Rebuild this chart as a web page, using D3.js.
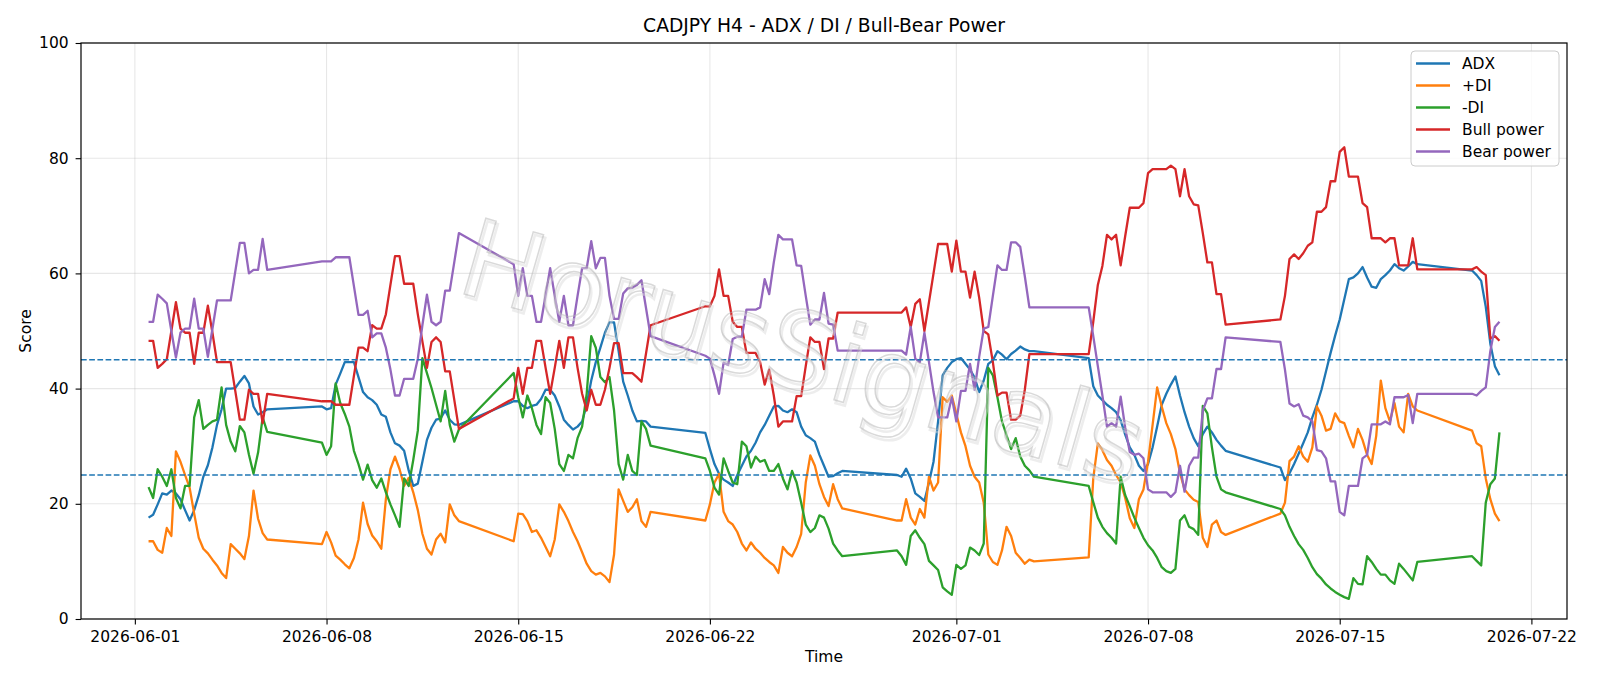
<!DOCTYPE html>
<html>
<head>
<meta charset="utf-8">
<script src="https://cdn.jsdelivr.net/npm/d3@7"></script>
<style>
  body { margin: 0; background: #fff; }
  text { font-family: "DejaVu Sans", sans-serif; fill: #000; }
</style>
</head>
<body>
<svg id="chart" width="1600" height="686"></svg>
<script>
// H4 bars, one block per trading week: [first bar (UTC), number of bars]
const sessions = [
  ["2026-06-01T12:00", 27],
  ["2026-06-07T20:00", 31],
  ["2026-06-14T20:00", 31],
  ["2026-06-21T20:00", 31],
  ["2026-06-28T20:00", 31],
  ["2026-07-05T20:00", 31],
  ["2026-07-12T20:00", 31],
  ["2026-07-19T20:00", 7]
];

const adx = [
  17.6, 18.1, 19.9, 21.8, 21.6, 22.3, 21.8, 20.8, 18.9, 17.1, 18.9, 21.5, 24.7, 26.7, 29.8, 33.7, 36.4, 40.0, 40.0, 40.1, 41.2, 42.2, 40.9, 36.9, 35.5, 35.9, 36.4,
  36.9, 36.4, 36.6, 40.7, 42.6, 44.6, 44.6, 44.6, 42.0, 39.4, 38.5, 38.0, 37.2, 35.5, 35.1, 32.4, 30.5, 30.1, 29.2, 25.8, 23.1, 23.5, 27.3, 31.1, 33.2, 34.6, 34.8, 36.2, 34.6, 33.8, 33.7,
  37.8, 37.8, 37.0, 36.6, 37.0, 37.2, 38.2, 39.8, 39.8, 38.8, 36.9, 34.6, 33.7, 32.9, 33.4, 34.3, 37.2, 41.4, 44.6, 47.1, 49.7, 51.5, 51.5, 46.5, 41.2, 38.8, 36.2, 34.3, 34.4, 34.3, 33.4,
  32.3, 29.5, 26.9, 25.2, 24.2, 23.7, 23.1, 25.0, 26.6, 28.2, 29.2, 30.6, 32.4, 33.7, 35.3, 36.9, 37.0, 36.2, 35.9, 36.4, 35.9, 33.4, 31.9, 31.4, 30.8, 28.5, 26.6, 24.7, 24.8, 25.3, 25.7,
  25.0, 24.7, 26.1, 24.4, 21.8, 21.2, 20.5, 23.7, 27.3, 34.3, 42.3, 43.6, 44.6, 45.1, 45.3, 44.3, 43.3, 41.9, 39.4, 41.4, 44.3, 44.9, 46.5, 45.9, 45.1, 46.0, 46.6, 47.3, 46.8, 46.5, 46.5,
  45.3, 40.4, 38.8, 38.0, 37.2, 36.6, 35.9, 34.5, 32.0, 29.8, 28.5, 26.6, 25.7, 26.9, 29.8, 33.4, 37.2, 39.1, 40.7, 42.1, 38.8, 35.9, 33.4, 31.4, 30.0, 32.1, 33.4, 32.4, 31.1, 30.1, 29.2,
  26.3, 24.1, 25.3, 26.9, 28.7, 30.5, 32.4, 35.0, 37.2, 39.8, 43.0, 46.2, 49.2, 52.0, 55.5, 59.0, 59.3, 60.0, 61.1, 59.3, 57.7, 57.5, 59.0, 59.7, 60.5, 61.6, 60.9, 60.5, 61.2, 62.0, 61.6,
  60.5, 59.7, 58.7, 54.2, 47.8, 43.9, 42.3
];

const plusDI = [
  13.5, 13.5, 12.0, 11.5, 15.8, 14.4, 29.1, 27.3, 25.0, 22.8, 18.3, 14.1, 12.2, 11.4, 10.3, 9.3, 8.0, 7.1, 13.0, 12.2, 11.4, 10.4, 14.4, 22.3, 17.4, 14.9, 13.8,
  13.0, 15.1, 13.3, 11.0, 10.3, 9.5, 8.8, 10.6, 13.8, 20.2, 16.5, 14.5, 13.5, 12.2, 20.8, 26.0, 28.2, 26.0, 23.1, 24.5, 22.0, 18.9, 14.8, 12.2, 11.2, 13.8, 14.8, 13.3, 19.9, 18.0, 17.0,
  13.5, 18.3, 18.2, 17.0, 15.1, 15.4, 14.1, 12.5, 10.9, 13.8, 19.9, 18.6, 17.0, 15.1, 13.5, 11.6, 9.6, 8.3, 7.7, 8.0, 7.4, 6.4, 11.2, 22.5, 20.5, 18.6, 19.4, 20.8, 17.0, 16.0, 18.6,
  17.1, 19.9, 23.7, 25.2, 18.6, 17.0, 16.4, 15.1, 13.1, 11.9, 13.3, 12.2, 11.5, 10.6, 9.9, 9.3, 8.0, 12.5, 11.5, 10.9, 12.5, 14.8, 23.7, 28.4, 26.6, 23.4, 21.2, 19.6, 23.4, 20.8, 19.2,
  17.1, 17.1, 20.8, 17.6, 16.4, 19.1, 17.6, 24.7, 22.3, 23.7, 38.5, 37.7, 38.8, 35.6, 32.4, 30.0, 26.6, 24.7, 23.7, 20.2, 11.2, 9.9, 9.4, 11.9, 16.0, 14.4, 11.5, 10.6, 9.6, 10.3, 10.0,
  10.7, 24.4, 30.5, 29.3, 27.6, 26.6, 25.0, 23.7, 21.0, 17.5, 15.8, 20.8, 22.5, 27.3, 33.7, 40.2, 36.9, 34.0, 32.1, 29.5, 25.3, 22.5, 21.5, 20.7, 20.3, 14.1, 12.5, 16.4, 17.1, 15.1, 14.6,
  18.3, 20.2, 27.4, 28.2, 30.0, 28.2, 27.3, 29.8, 36.9, 35.3, 32.7, 33.0, 35.7, 34.3, 34.0, 31.8, 29.8, 33.0, 31.1, 28.5, 26.9, 31.8, 41.4, 36.6, 34.3, 37.5, 33.4, 32.4, 39.1, 36.9, 36.2,
  32.7, 30.5, 30.0, 24.4, 20.8, 18.3, 17.0
];

const minusDI = [
  22.9, 21.0, 26.0, 24.7, 23.1, 26.0, 21.0, 19.2, 23.1, 23.1, 35.0, 38.0, 33.0, 33.7, 34.3, 34.6, 40.2, 33.7, 30.8, 29.1, 33.5, 32.4, 28.5, 25.2, 28.9, 35.0, 32.5,
  30.6, 28.5, 30.0, 40.9, 37.5, 35.6, 33.4, 29.2, 26.9, 24.2, 26.8, 24.1, 22.8, 24.4, 22.0, 19.9, 18.0, 16.0, 24.4, 23.1, 27.6, 32.7, 45.3, 42.7, 40.1, 37.2, 34.3, 39.6, 33.7, 30.8, 32.9,
  42.7, 38.5, 35.0, 38.8, 36.6, 33.7, 32.1, 38.5, 37.5, 33.0, 26.9, 25.7, 28.5, 27.9, 31.4, 33.4, 39.1, 49.1, 47.1, 42.0, 41.1, 42.0, 36.2, 26.9, 24.2, 28.5, 25.7, 25.0, 34.3, 33.0, 30.1,
  27.9, 25.7, 22.8, 21.6, 27.9, 25.7, 23.7, 23.4, 30.8, 30.0, 26.3, 28.2, 27.3, 27.6, 25.7, 25.7, 26.9, 24.4, 22.5, 25.7, 23.7, 20.2, 16.4, 15.1, 15.8, 18.0, 17.6, 15.7, 13.1, 11.9, 10.9,
  11.9, 10.9, 9.4, 14.4, 15.4, 14.1, 13.0, 10.1, 9.3, 8.5, 5.5, 4.8, 4.2, 9.4, 8.7, 9.3, 12.4, 11.9, 11.1, 13.1, 43.6, 42.3, 38.5, 34.3, 31.9, 29.5, 31.4, 28.2, 26.6, 25.8, 24.7,
  23.1, 20.3, 17.6, 16.0, 14.9, 14.1, 13.1, 24.7, 21.5, 19.6, 17.6, 15.8, 14.1, 12.8, 11.9, 10.6, 9.0, 8.3, 8.0, 8.7, 17.1, 18.0, 16.0, 15.6, 14.6, 37.0, 35.7, 29.8, 24.7, 22.5, 22.0,
  19.1, 18.0, 16.0, 14.4, 13.0, 12.0, 10.6, 9.0, 7.8, 7.0, 6.0, 5.3, 4.7, 4.2, 3.8, 3.5, 7.1, 6.1, 6.0, 10.9, 9.9, 8.7, 7.7, 7.7, 6.7, 6.1, 9.6, 8.7, 7.7, 6.7, 9.9,
  10.9, 10.1, 9.3, 20.2, 23.4, 24.4, 32.4
];

const bullPower = [
  48.3, 48.3, 43.6, 44.3, 45.1, 50.0, 55.0, 50.4, 49.7, 49.7, 44.3, 49.7, 49.7, 54.4, 49.7, 44.6, 44.6, 44.6, 44.6, 39.6, 34.6, 34.6, 39.8, 39.1, 39.1, 34.0, 39.1,
  37.8, 37.8, 37.8, 37.2, 37.2, 37.2, 37.2, 42.2, 47.1, 47.1, 46.5, 51.0, 50.4, 50.4, 52.9, 58.0, 63.0, 63.0, 58.2, 58.2, 58.2, 52.9, 48.2, 43.6, 48.1, 48.9, 48.1, 43.0, 43.0, 38.0, 33.0,
  38.3, 43.6, 39.1, 43.6, 43.6, 48.3, 48.3, 43.6, 39.1, 43.6, 48.3, 43.6, 48.9, 48.9, 43.6, 39.1, 36.2, 39.8, 37.2, 37.2, 39.8, 43.6, 47.9, 47.9, 42.7, 42.7, 42.7, 42.0, 41.2, 46.1, 51.0,
  54.3, 54.3, 56.1, 60.7, 56.1, 56.1, 51.6, 50.7, 50.7, 46.2, 46.2, 46.2, 44.6, 40.7, 43.3, 38.8, 33.4, 34.3, 34.3, 34.3, 38.7, 38.7, 43.9, 48.9, 48.1, 48.1, 43.4, 48.7, 48.7, 53.2, 53.2,
  53.2, 53.2, 54.1, 50.7, 54.7, 55.5, 50.0, 55.0, 60.0, 65.1, 65.1, 65.1, 60.3, 65.7, 60.3, 60.3, 55.8, 60.3, 55.8, 50.0, 49.4, 44.6, 38.8, 39.3, 39.3, 34.6, 34.6, 35.3, 39.8, 46.0, 46.0,
  46.0, 51.6, 58.0, 61.3, 66.7, 65.9, 66.7, 61.4, 66.5, 71.4, 71.4, 71.4, 72.2, 77.4, 78.1, 78.1, 78.1, 78.1, 78.7, 78.1, 73.4, 78.1, 73.4, 72.0, 71.8, 67.0, 61.9, 61.9, 56.4, 56.4, 51.1,
  52.0, 56.1, 62.5, 63.3, 62.5, 63.5, 64.8, 65.4, 70.7, 70.7, 71.5, 76.0, 76.0, 81.1, 81.9, 76.8, 76.8, 76.8, 72.2, 71.5, 66.1, 66.1, 66.1, 65.4, 66.1, 66.1, 61.4, 61.4, 61.4, 66.1, 60.7,
  60.7, 61.1, 60.3, 59.7, 48.7, 49.1, 48.3
];

const bearPower = [
  51.6, 51.6, 56.3, 55.6, 54.8, 50.0, 45.4, 49.7, 50.4, 50.4, 55.6, 50.4, 50.4, 45.5, 50.4, 55.3, 55.3, 55.3, 55.3, 60.3, 65.3, 65.3, 60.0, 60.6, 60.6, 66.0, 60.6,
  62.1, 62.1, 62.1, 62.8, 62.8, 62.8, 62.8, 57.8, 52.8, 52.8, 53.5, 48.9, 49.6, 49.6, 47.1, 43.3, 38.8, 38.8, 41.7, 41.7, 41.7, 45.2, 51.0, 56.3, 51.6, 51.0, 51.6, 57.0, 57.0, 62.0, 67.0,
  61.6, 56.1, 60.9, 56.1, 56.1, 51.6, 51.6, 56.2, 60.9, 56.1, 51.6, 56.1, 51.0, 51.0, 56.1, 60.9, 60.9, 65.6, 60.9, 62.7, 62.7, 56.1, 52.1, 52.1, 56.5, 57.4, 57.5, 58.0, 58.8, 54.0, 49.1,
  45.7, 45.2, 42.3, 39.1, 44.5, 44.1, 48.6, 49.0, 49.0, 53.7, 53.7, 53.7, 54.1, 59.0, 56.4, 61.9, 66.7, 65.9, 65.9, 65.9, 61.4, 61.3, 56.1, 51.1, 52.0, 52.0, 56.6, 51.3, 51.1, 46.6, 46.6,
  46.6, 46.6, 45.9, 50.7, 45.2, 44.6, 49.7, 44.6, 39.4, 35.0, 35.0, 35.0, 38.5, 34.3, 39.6, 39.6, 44.3, 39.8, 45.5, 50.4, 50.7, 56.1, 61.4, 60.6, 60.6, 65.4, 65.4, 64.6, 59.5, 54.1, 54.1,
  54.1, 49.1, 43.9, 38.8, 33.4, 34.0, 33.4, 38.6, 33.2, 29.0, 28.5, 28.7, 27.9, 22.5, 22.0, 22.0, 22.0, 22.0, 21.2, 22.0, 26.6, 22.1, 26.6, 28.0, 28.0, 36.2, 38.3, 38.3, 43.4, 43.4, 48.9,
  48.1, 43.3, 37.4, 36.9, 37.3, 35.3, 35.0, 34.3, 29.3, 29.1, 27.9, 23.9, 23.9, 18.6, 18.0, 23.1, 23.1, 23.1, 27.9, 28.5, 33.8, 33.8, 33.8, 34.3, 33.8, 38.5, 38.5, 38.5, 38.9, 34.0, 39.1,
  39.1, 38.8, 39.6, 40.2, 46.5, 50.7, 51.6
];

const seriesNames = ["ADX", "+DI", "-DI", "Bull power", "Bear power"];
const seriesColors = ["#1f77b4", "#ff7f0e", "#2ca02c", "#d62728", "#9467bd"];
const levels = [45, 25];
const xTickLabels = ["2026-06-01", "2026-06-08", "2026-06-15", "2026-06-22", "2026-07-01", "2026-07-08", "2026-07-15", "2026-07-22"];
const yTicks = [0, 20, 40, 60, 80, 100];

// timestamps of every bar
const times = [];
sessions.forEach(([start, n]) => {
  const t0 = new Date(start + ":00Z");
  for (let i = 0; i < n; i++) times.push(new Date(+t0 + i * 4 * 3600 * 1000));
});

const allSeries = [adx, plusDI, minusDI, bullPower, bearPower];

// layout
const margin = {top: 43, right: 33, bottom: 67, left: 81};
const W = 1600, H = 686;
const width = W - margin.left - margin.right;
const height = H - margin.top - margin.bottom;

const svg = d3.select("#chart");
const g = svg.append("g").attr("transform", `translate(${margin.left},${margin.top})`);

// scales (matplotlib style 5% margin on x)
const [tMin, tMax] = d3.extent(times);
const pad = (tMax - tMin) * 0.05;
const x = d3.scaleUtc()
  .domain([new Date(+tMin - pad), new Date(+tMax + pad)])
  .range([0, width]);
const y = d3.scaleLinear().domain([0, 100]).range([height, 0]);

const xTicks = xTickLabels.map(s => new Date(s + "T00:00:00Z"));

// grid
g.append("g").selectAll("line").data(xTicks).join("line")
  .attr("x1", d => x(d)).attr("x2", d => x(d))
  .attr("y1", 0).attr("y2", height)
  .attr("stroke", "#b0b0b0").attr("stroke-opacity", 0.3).attr("stroke-width", 1.1);
g.append("g").selectAll("line").data(yTicks).join("line")
  .attr("x1", 0).attr("x2", width)
  .attr("y1", d => y(d)).attr("y2", d => y(d))
  .attr("stroke", "#b0b0b0").attr("stroke-opacity", 0.3).attr("stroke-width", 1.1);

// series
const line = d3.line().x((d, i) => x(times[i])).y(d => y(d));
allSeries.forEach((s, k) => {
  g.append("path").datum(s)
    .attr("fill", "none")
    .attr("stroke", seriesColors[k])
    .attr("stroke-width", 2.3)
    .attr("stroke-linejoin", "round")
    .attr("d", line);
});

// reference levels
g.append("g").selectAll("line").data(levels).join("line")
  .attr("x1", 0).attr("x2", width)
  .attr("y1", d => y(d)).attr("y2", d => y(d))
  .attr("stroke", "#1f77b4").attr("stroke-width", 1.5)
  .attr("stroke-dasharray", "5.7,2.5");

// watermark (hollow grey letters with a soft shadow)
const wm = svg.append("g").attr("transform", "translate(803,352) rotate(16)");
wm.append("text")
  .attr("x", 2.5).attr("y", 2.5)
  .attr("text-anchor", "middle")
  .attr("dominant-baseline", "central")
  .style("font-size", "108px")
  .style("fill", "none")
  .style("stroke", "#dcdcdc")
  .style("stroke-width", 2.5)
  .style("stroke-opacity", 0.5)
  .text("HorusSignals");
wm.append("text")
  .attr("text-anchor", "middle")
  .attr("dominant-baseline", "central")
  .style("font-size", "108px")
  .style("fill", "none")
  .style("stroke", "#b4b4b4")
  .style("stroke-width", 1.5)
  .style("stroke-opacity", 0.5)
  .text("HorusSignals");

// axes
const xAxis = d3.axisBottom(x).tickValues(xTicks).tickFormat(d3.utcFormat("%Y-%m-%d"))
  .tickSize(5.4).tickPadding(6.4);
const yAxis = d3.axisLeft(y).tickValues(yTicks).tickSize(5.4).tickPadding(7);

const gx = g.append("g").attr("transform", `translate(0,${height})`).call(xAxis);
const gy = g.append("g").call(yAxis);
[gx, gy].forEach(a => {
  a.select(".domain").remove();
  a.selectAll(".tick line").attr("stroke", "#000").attr("stroke-width", 1.1);
  a.selectAll(".tick text").style("font-size", "15.5px").style("font-family", "DejaVu Sans, sans-serif").attr("fill", "#000");
});

// frame
g.append("rect").attr("width", width).attr("height", height)
  .attr("fill", "none").attr("stroke", "#000").attr("stroke-width", 1.2);

// titles
svg.append("text").attr("x", margin.left + width / 2).attr("y", 32)
  .attr("text-anchor", "middle").style("font-size", "18.7px")
  .text("CADJPY H4 - ADX / DI / Bull-Bear Power");
svg.append("text").attr("x", margin.left + width / 2).attr("y", 662)
  .attr("text-anchor", "middle").style("font-size", "15.5px").text("Time");
svg.append("text").attr("transform", `translate(31,${margin.top + height / 2}) rotate(-90)`)
  .attr("text-anchor", "middle").style("font-size", "15.5px").text("Score");

// legend
const lg = svg.append("g").attr("transform", "translate(1411,51)");
lg.append("rect").attr("width", 148).attr("height", 115).attr("rx", 4)
  .attr("fill", "#fff").attr("fill-opacity", 0.8).attr("stroke", "#cccccc");
seriesNames.forEach((name, i) => {
  const yy = 12.5 + i * 22;
  lg.append("line").attr("x1", 5).attr("x2", 39).attr("y1", yy).attr("y2", yy)
    .attr("stroke", seriesColors[i]).attr("stroke-width", 2.3);
  lg.append("text").attr("x", 51).attr("y", yy).attr("dominant-baseline", "central")
    .style("font-size", "15.5px").text(name);
});
</script>
</body>
</html>
